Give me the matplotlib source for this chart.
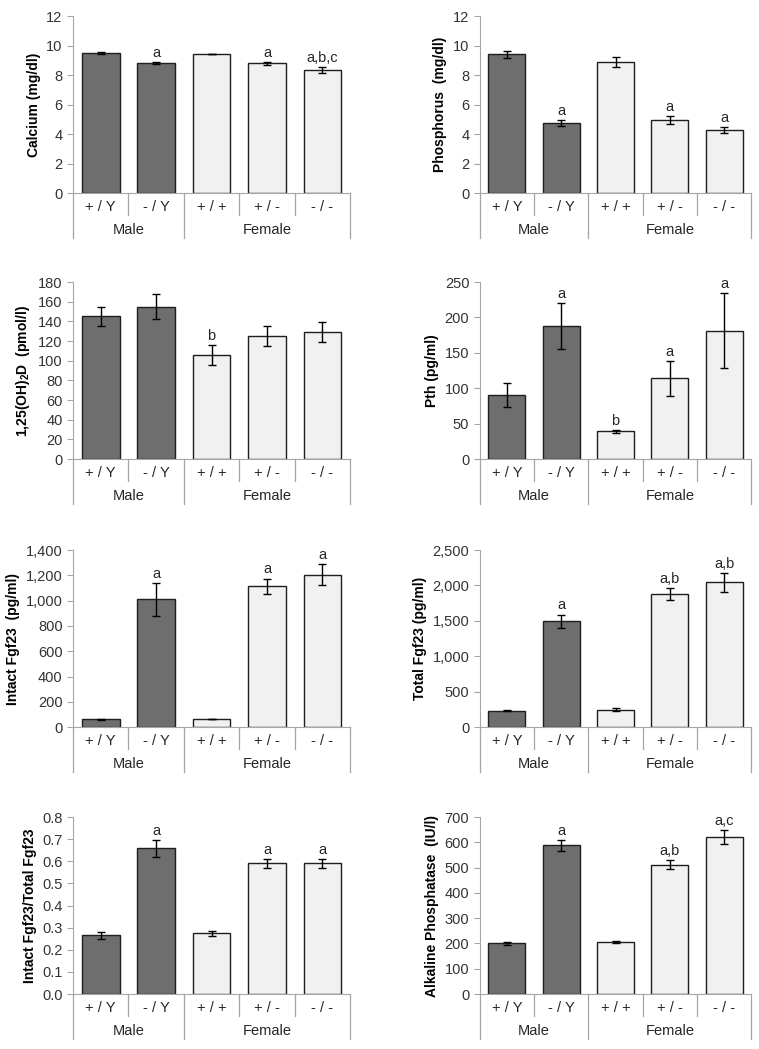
import matplotlib
matplotlib.use('Agg')
import matplotlib.pyplot as plt
from matplotlib.ticker import FuncFormatter, MultipleLocator

plt.rcParams.update({
    'font.family': ['Liberation Sans', 'DejaVu Sans'],
    'font.size': 10,
    'mathtext.fontset': 'custom',
    'mathtext.rm': 'Liberation Sans',
    'mathtext.bf': 'Liberation Sans:bold',
})

genotypes = ['+ / Y', '- / Y', '+ / +', '+ / -', '- / -']
groups = ['Male', 'Female']

calcium = [9.5, 8.8, 9.43, 8.8, 8.35]
calcium_err = [0.06, 0.06, 0.03, 0.1, 0.18]
calcium_sig = ['', 'a', '', 'a', 'a,b,c']

phosphorus = [9.4, 4.75, 8.9, 4.95, 4.3]
phosphorus_err = [0.25, 0.22, 0.35, 0.28, 0.2]
phosphorus_sig = ['', 'a', '', 'a', 'a']

vitd = [145, 155, 106, 125, 129]
vitd_err = [10, 13, 10, 10, 10]
vitd_sig = ['', '', 'b', '', '']

pth = [90, 188, 39, 114, 181]
pth_err = [17, 33, 2, 25, 53]
pth_sig = ['', 'a', 'b', 'a', 'a']

intact_fgf23 = [60, 1010, 65, 1115, 1205]
intact_fgf23_err = [5, 130, 2, 60, 85]
intact_fgf23_sig = ['', 'a', '', 'a', 'a']

total_fgf23 = [230, 1495, 248, 1885, 2045]
total_fgf23_err = [10, 95, 15, 85, 135]
total_fgf23_sig = ['', 'a', '', 'a,b', 'a,b']

ratio = [0.265, 0.658, 0.274, 0.592, 0.592]
ratio_err = [0.015, 0.04, 0.01, 0.02, 0.02]
ratio_sig = ['', 'a', '', 'a', 'a']

alp = [200, 588, 205, 512, 622]
alp_err = [7, 22, 4, 18, 27]
alp_sig = ['', 'a', '', 'a,b', 'a,c']

DARK = '#6e6e6e'
LIGHT = '#f1f1f1'
AXIS = '#a6a6a6'
TEXT = '#262626'
bar_colors = [DARK, DARK, LIGHT, LIGHT, LIGHT]


def comma(v, pos):
    return f'{v:,.0f}'


def draw_panel(ax, vals, errs, sig, ylabel, ymax, step, fmt=None):
    x = range(len(vals))
    ax.bar(x, vals, width=0.68, color=bar_colors, edgecolor='#1e1e1e', linewidth=1.0, zorder=2)
    ax.errorbar(x, vals, yerr=errs, fmt='none', ecolor='black', elinewidth=1.0,
                capsize=3, capthick=1.0, zorder=3)
    for xi, v, e, s in zip(x, vals, errs, sig):
        if s:
            ax.annotate(s, (xi, v + e), xytext=(0, 1.5), textcoords='offset points',
                        ha='center', va='bottom', fontsize=10.5, color=TEXT)

    ax.set_xlim(-0.5, len(vals) - 0.5)
    ax.set_ylim(0, ymax)
    ax.yaxis.set_major_locator(MultipleLocator(step))
    if fmt is not None:
        ax.yaxis.set_major_formatter(fmt)
    ax.set_ylabel(ylabel, fontweight='bold', fontsize=10, labelpad=4, color='black')

    for side in ['top', 'right']:
        ax.spines[side].set_visible(False)
    ax.spines['left'].set_color(AXIS)
    ax.spines['bottom'].set_color(AXIS)
    ax.tick_params(axis='y', colors=AXIS, labelcolor='#333333', labelsize=10.5, length=4, direction='out')
    ax.tick_params(axis='x', length=0, labelbottom=False)

    # Excel-style two level category axis
    tr = ax.get_xaxis_transform()
    for i, g in enumerate(genotypes):
        ax.text(i, -0.08, g, transform=tr, ha='center', va='center', fontsize=10.5, color=TEXT)
    ax.text(0.5, -0.21, groups[0], transform=tr, ha='center', va='center', fontsize=10.5, color=TEXT)
    ax.text(3.0, -0.21, groups[1], transform=tr, ha='center', va='center', fontsize=10.5, color=TEXT)
    for xs in [0.5, 2.5, 3.5]:
        ax.plot([xs, xs], [0, -0.125], transform=tr, color=AXIS, lw=0.9, clip_on=False)
    for xs in [-0.5, 1.5, 4.5]:
        ax.plot([xs, xs], [0, -0.255], transform=tr, color=AXIS, lw=0.9, clip_on=False)


fig = plt.figure(figsize=(7.59, 10.49), dpi=100)

lefts = [0.0962, 0.632]
width_l, width_r = 0.365, 0.358
bottoms = [0.816, 0.5624, 0.3069, 0.0524]
height = 0.1687

ax1 = fig.add_axes([lefts[0], bottoms[0], width_l, height])
ax2 = fig.add_axes([lefts[1], bottoms[0], width_r, height])
ax3 = fig.add_axes([lefts[0], bottoms[1], width_l, height])
ax4 = fig.add_axes([lefts[1], bottoms[1], width_r, height])
ax5 = fig.add_axes([lefts[0], bottoms[2], width_l, height])
ax6 = fig.add_axes([lefts[1], bottoms[2], width_r, height])
ax7 = fig.add_axes([lefts[0], bottoms[3], width_l, height])
ax8 = fig.add_axes([lefts[1], bottoms[3], width_r, height])

draw_panel(ax1, calcium, calcium_err, calcium_sig, 'Calcium (mg/dl)', 12, 2)
draw_panel(ax2, phosphorus, phosphorus_err, phosphorus_sig, 'Phosphorus  (mg/dl)', 12, 2)
draw_panel(ax3, vitd, vitd_err, vitd_sig, r'1,25(OH)$\mathbf{_2}$D  (pmol/l)', 180, 20)
draw_panel(ax4, pth, pth_err, pth_sig, 'Pth (pg/ml)', 250, 50)
draw_panel(ax5, intact_fgf23, intact_fgf23_err, intact_fgf23_sig, 'Intact Fgf23  (pg/ml)', 1400, 200,
           FuncFormatter(comma))
draw_panel(ax6, total_fgf23, total_fgf23_err, total_fgf23_sig, 'Total Fgf23 (pg/ml)', 2500, 500,
           FuncFormatter(comma))
draw_panel(ax7, ratio, ratio_err, ratio_sig, 'Intact Fgf23/Total Fgf23', 0.8, 0.1,
           FuncFormatter(lambda v, p: f'{v:.1f}'))
draw_panel(ax8, alp, alp_err, alp_sig, 'Alkaline Phosphatase  (IU/l)', 700, 100)

fig.savefig('out.png', dpi=100)
